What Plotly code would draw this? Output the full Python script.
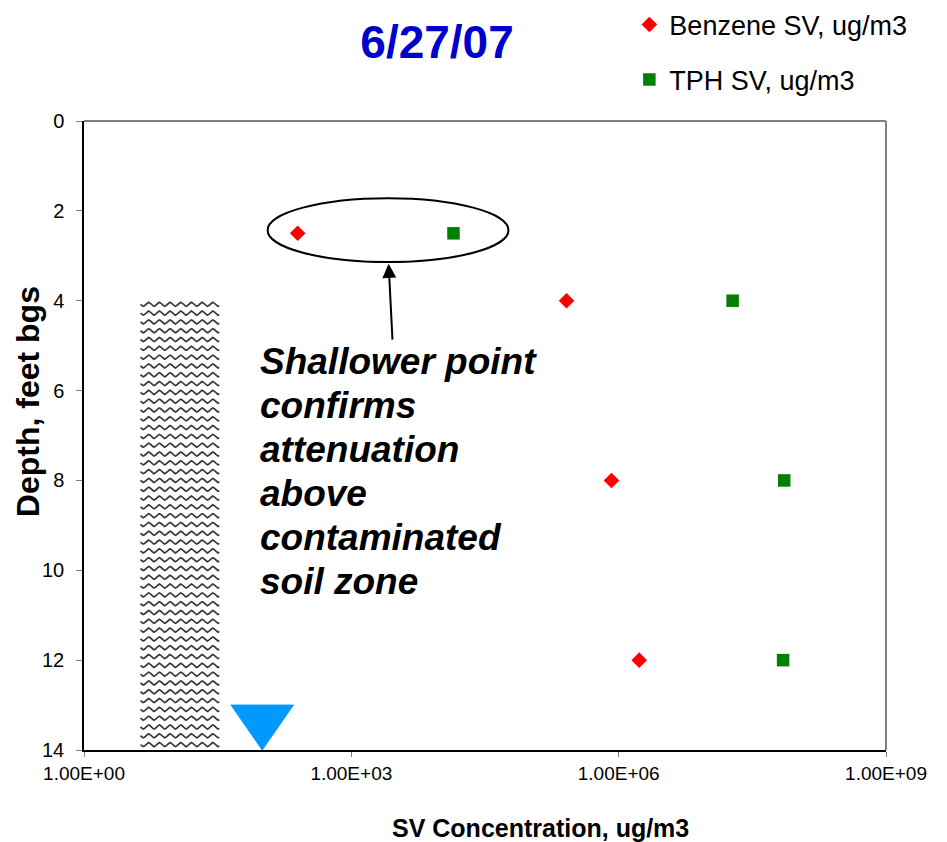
import numpy as np
import plotly.graph_objects as go

# Soil-vapour sample depths (feet bgs) and concentrations (ug/m3)
depth_ft = [2.5, 4, 8, 12]
benzene_ugm3 = [250, 2.6e5, 8.3e5, 1.7e6]
tph_ugm3 = [1.4e4, 1.9e7, 7.2e7, 7.0e7]

x_tickvals = [1, 1e3, 1e6, 1e9]
x_ticktext = ["1.00E+00", "1.00E+03", "1.00E+06", "1.00E+09"]
y_tickvals = [0, 2, 4, 6, 8, 10, 12, 14]

# Contaminated soil zone (drawn as a wavy-hatched column)
soil_zone_conc = [4.3, 34]
soil_zone_depth = [4, 14]

# Groundwater marker
water_table_conc = 100
water_table_depth = 14
water_marker_height = 1.0      # depth units
water_marker_halfwidth = 0.35  # decades

# Callout around the shallow samples
callout_conc = [115, 5.8e4]
callout_depth = [1.72, 3.14]
arrow_tip = (2620, 3.18)
arrow_tail = (2900, 4.9)
callout_lines = ["Shallower point", "confirms", "attenuation", "above",
                 "contaminated", "soil zone"]
callout_text_conc = 90
callout_first_depth = 5.35
callout_line_step = 0.98

FONT = "Liberation Sans, Arial, sans-serif"

fig = go.Figure()

# Wavy texture for the soil zone
lo, hi = np.log10(soil_zone_conc[0]), np.log10(soil_zone_conc[1])
period = 0.12
amp = 0.045
wx, wy = [], []
lx = np.arange(lo, hi + 1e-9, period / 8)
for d in np.arange(soil_zone_depth[0] + 0.08, soil_zone_depth[1], 0.196):
    wx.extend(list(10 ** lx) + [None])
    wy.extend(list(d + amp * np.sin(2 * np.pi * (lx - lo) / period)) + [None])
fig.add_trace(go.Scatter(x=wx, y=wy, mode="lines", showlegend=False,
                         hoverinfo="skip",
                         line=dict(color="#3a3a3a", width=1.7)))

fig.add_trace(go.Scatter(
    x=benzene_ugm3, y=depth_ft, mode="markers", name="Benzene SV, ug/m3",
    marker=dict(symbol="diamond", size=12, color="#FF0000"), legend="legend"))
fig.add_trace(go.Scatter(
    x=tph_ugm3, y=depth_ft, mode="markers", name="TPH SV, ug/m3",
    marker=dict(symbol="square", size=12.5, color="#008000"), legend="legend2"))

shapes = [
    # grey top/right frame
    dict(type="line", xref="paper", yref="paper", x0=0, x1=1, y0=1, y1=1,
         line=dict(color="#808080", width=2)),
    dict(type="line", xref="paper", yref="paper", x0=1, x1=1, y0=0, y1=1,
         line=dict(color="#808080", width=2)),
    # callout ellipse
    dict(type="circle", xref="x", yref="y",
         x0=callout_conc[0], x1=callout_conc[1],
         y0=callout_depth[0], y1=callout_depth[1],
         line=dict(color="black", width=2)),
]

# Inverted triangle marking groundwater
wl = np.log10(water_table_conc)
tri = "M {a},{t} L {b},{t} L {c},{d} Z".format(
    a=10 ** (wl - water_marker_halfwidth), b=10 ** (wl + water_marker_halfwidth),
    c=water_table_conc, t=water_table_depth - water_marker_height,
    d=water_table_depth)
shapes.append(dict(type="path", xref="x", yref="y", path=tri,
                   fillcolor="#0099FF", line=dict(color="#0099FF", width=1)))

annotations = [
    dict(xref="paper", yref="paper", x=0.5686, y=-0.124, xanchor="center",
         yanchor="middle", showarrow=False, text="SV Concentration, ug/m3",
         font=dict(family=FONT, size=25, weight="bold", color="black")),
    dict(xref="paper", yref="paper", x=-0.0698, y=0.553, xanchor="center",
         yanchor="middle", showarrow=False, text="Depth, feet bgs",
         textangle=-90,
         font=dict(family=FONT, size=32, weight="bold", color="black")),
    dict(xref="x", yref="y", axref="x", ayref="y",
         x=np.log10(arrow_tip[0]), y=arrow_tip[1],
         ax=np.log10(arrow_tail[0]), ay=arrow_tail[1],
         text="", showarrow=True, arrowhead=2, arrowsize=1.4,
         arrowwidth=2, arrowcolor="black"),
]
for i, line in enumerate(callout_lines):
    annotations.append(dict(
        xref="x", yref="y", x=np.log10(callout_text_conc),
        y=callout_first_depth + i * callout_line_step,
        xanchor="left", yanchor="middle", showarrow=False, text=line,
        font=dict(family=FONT, size=37, weight="bold", style="italic",
                  color="black")))

legend_common = dict(xanchor="left", yanchor="middle", bgcolor="rgba(0,0,0,0)",
                     itemwidth=30,
                     font=dict(family=FONT, size=27, color="black"))

fig.update_layout(
    width=947, height=842,
    margin=dict(l=84, r=61, t=121, b=92, autoexpand=False),
    paper_bgcolor="white", plot_bgcolor="white",
    font=dict(family=FONT, color="black"),
    title=dict(text="6/27/07", x=0.4615, xref="container", xanchor="center",
               y=0.95, yanchor="middle",
               font=dict(family=FONT, size=46, weight="bold", color="#0000CC")),
    xaxis=dict(type="log", range=[0, 9], tickvals=x_tickvals,
               ticktext=x_ticktext, ticks="outside", ticklen=5,
               tickcolor="#808080", showline=True, linecolor="black",
               linewidth=2, showgrid=False, zeroline=False,
               tickfont=dict(family=FONT, size=19, color="black")),
    yaxis=dict(range=[14, 0], tickvals=y_tickvals, ticks="outside", ticklen=6,
               tickcolor="#808080", showline=True, linecolor="black",
               linewidth=1.5, showgrid=False, zeroline=False,
               ticklabelstandoff=8,
               tickfont=dict(family=FONT, size=20, color="black")),
    legend=dict(x=0.68, y=1.1526, **legend_common),
    legend2=dict(x=0.68, y=1.0652, **legend_common),
    shapes=shapes,
    annotations=annotations,
)

fig.write_html("out.html")
